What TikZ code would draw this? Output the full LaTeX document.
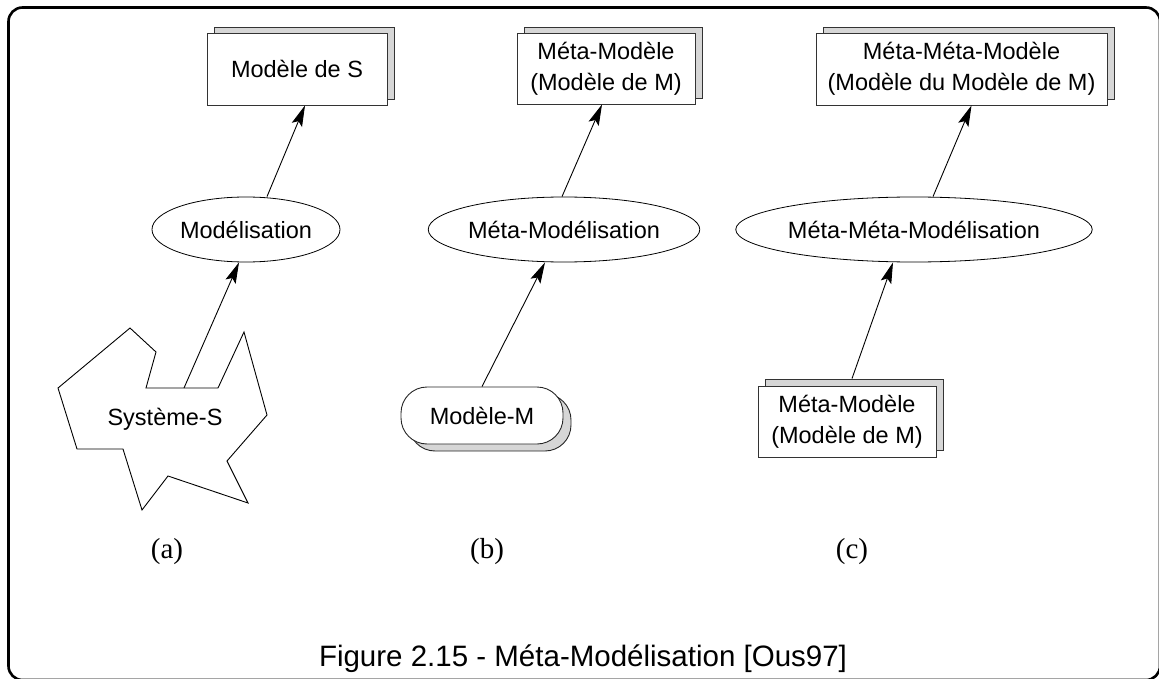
\documentclass[tikz,border=0pt]{standalone}
\usepackage{fontspec}
\setmainfont{Liberation Serif}
\newfontfamily\sansf{Liberation Sans}
\usetikzlibrary{shapes.geometric,arrows.meta,shadows,calc}
\begin{document}
\begin{tikzpicture}[x=1pt,y=-1pt,
  lbl/.style={font=\sansf\fontsize{23.5}{31}\selectfont, align=center, text=black},
  modelbox/.style={lbl, rectangle, draw=black!80, fill=white, line width=0.9pt, inner sep=0pt,
     general shadow={shadow xshift=7pt, shadow yshift=6pt, fill=black!16, draw=black!80, line width=0.9pt}},
  lowbox/.style={lbl, rectangle, draw=black!80, fill=white, line width=0.9pt, inner sep=0pt,
     general shadow={shadow xshift=7pt, shadow yshift=7pt, fill=black!16, draw=black!80, line width=0.9pt}},
  pill/.style={lbl, rectangle, rounded corners=26pt, draw=black!85, fill=white, line width=0.9pt, inner sep=0pt,
     general shadow={shadow xshift=8pt, shadow yshift=-7pt, fill=black!16, draw=black!85, line width=0.9pt}},
  activity/.style={lbl, ellipse, draw=black, line width=0.8pt, inner sep=0pt, minimum height=65pt},
  conn/.style={-{Stealth[length=21pt,width=11pt,inset=4pt]}, line width=0.9pt, black},
  panel/.style={font=\fontsize{29}{33}\selectfont},
  frame/.style={line width=2.6pt, rounded corners=14pt}
]
\useasboundingbox (0,0) rectangle (1159,679);
\clip (0,0) rectangle (1159,679);
\draw[frame] (8.5,7.5) rectangle (1160,680);

% ---------- panel (a)
\node[modelbox, minimum width=180pt, minimum height=72pt] (boxA) at (297,69) {Modèle de S};
\node[activity, minimum width=188pt] (ellA) at (246,229.5) {Modélisation};
\draw[line width=0.9pt, black] (58,388) -- (130,328) -- (156,352) -- (146,388) -- (218,388)
   -- (244,332) -- (267,415) -- (227,461) -- (248,503) -- (168,476) -- (142,510)
   -- (123,449) -- (77,449) -- cycle;
\node[lbl] (sysA) at (165,419) {Système-S};
\coordinate (sysTop) at (184,388);
\draw[conn] (sysTop) -- ([xshift=-7pt]ellA.south);
\draw[conn] ([xshift=21pt]ellA.north) -- ([xshift=8pt]boxA.south);

% ---------- panel (b)
\node[modelbox, minimum width=178pt, minimum height=71pt] (boxB) at (606,68.5) {Méta-Modèle\\(Modèle de M)};
\node[activity, minimum width=234pt] (ellB) at (564,229.5) {Méta-Modélisation};
\node[pill, minimum width=162pt, minimum height=57pt] (pillB) at (482,415.5) {Modèle-M};
\draw[conn] (pillB.north) -- ([xshift=-19pt]ellB.south);
\draw[conn] ([xshift=-2pt]ellB.north) -- ([xshift=-4pt]boxB.south);

% ---------- panel (c)
\node[modelbox, minimum width=291pt, minimum height=72pt] (boxC) at (961.5,69) {Méta-Méta-Modèle\\(Modèle du Modèle de M)};
\node[activity, minimum width=302pt] (ellC) at (914,229.5) {Méta-Méta-Modélisation};
\node[lowbox, minimum width=178pt, minimum height=71pt] (boxCl) at (847,421.5) {Méta-Modèle\\(Modèle de M)};
\draw[conn] ([xshift=5pt,yshift=7pt]boxCl.north) -- ([xshift=-21pt]ellC.south);
\draw[conn] ([xshift=19pt]ellC.north) -- ([xshift=10pt]boxC.south);

% ---------- labels
\node[panel] (la) at (167,552) {(a)};
\node[panel] (lb) at (487,552) {(b)};
\node[panel] (lc) at (852,552) {(c)};
\node[font=\sansf\fontsize{29.5}{34}\selectfont] (cap) at (583,659) {Figure 2.15 - Méta-Modélisation [Ous97]};
\end{tikzpicture}
\end{document}
